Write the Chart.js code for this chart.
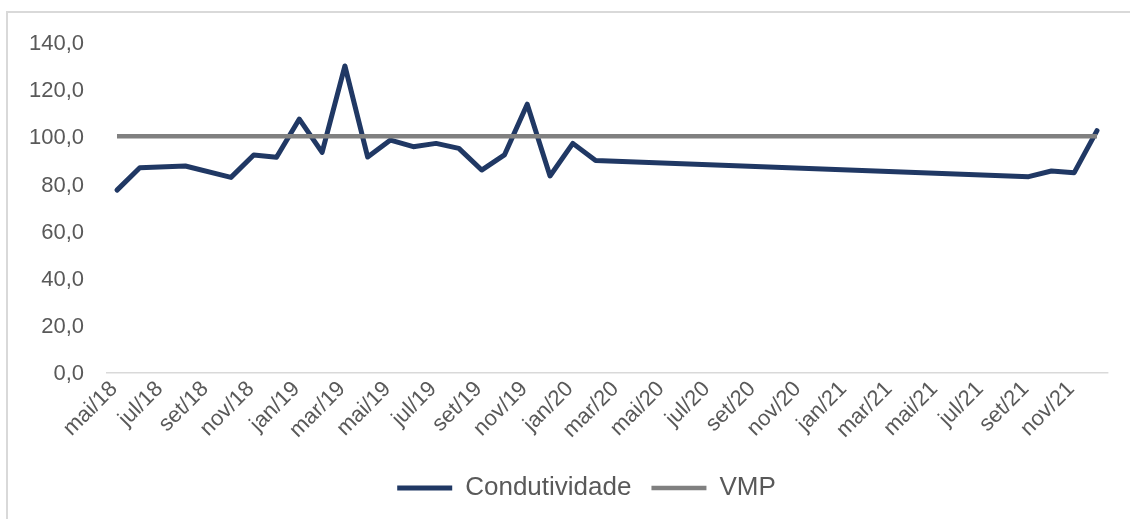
<!DOCTYPE html>
<html>
<head>
<meta charset="utf-8">
<script src="https://cdn.jsdelivr.net/npm/chart.js"></script>
<style>
  html, body { margin: 0; padding: 0; background: #fff; overflow: hidden; }
  #frame {
    position: absolute; left: 6px; top: 11px;
    border-left: 2px solid #d9d9d9; border-top: 2px solid #d9d9d9;
  }
  #box { position: relative; width: 1157px; height: 506px; }
</style>
</head>
<body>
<div id="frame"><div id="box"><canvas id="myChart"></canvas></div></div>
<script>
// months mai/18 .. dez/21
var meses = ["mai/18", "jun/18", "jul/18", "ago/18", "set/18", "out/18", "nov/18", "dez/18",
  "jan/19", "fev/19", "mar/19", "abr/19", "mai/19", "jun/19", "jul/19", "ago/19", "set/19", "out/19", "nov/19", "dez/19",
  "jan/20", "fev/20", "mar/20", "abr/20", "mai/20", "jun/20", "jul/20", "ago/20", "set/20", "out/20", "nov/20", "dez/20",
  "jan/21", "fev/21", "mar/21", "abr/21", "mai/21", "jun/21", "jul/21", "ago/21", "set/21", "out/21", "nov/21", "dez/21"];

// months without a sample are null, the line spans over them
var condutividade = [77.2, 86.7, null, 87.4, null, 82.6, 92.1, 91.1,
  107.3, 93.2, 129.8, 91.2, 98.4, 95.6, 97.0, 94.9, 85.7, 92.1, 113.6, 83.2,
  97.0, 89.7, null, null, null, null, null, null, null, null, null, null,
  null, null, null, null, null, null, null, null, 82.9, 85.3, 84.6, 102.4];

var vmp = [100, 100, 100, 100, 100, 100, 100, 100,
  100, 100, 100, 100, 100, 100, 100, 100, 100, 100, 100, 100,
  100, 100, 100, 100, 100, 100, 100, 100, 100, 100, 100, 100,
  100, 100, 100, 100, 100, 100, 100, 100, 100, 100, 100, 100];

var yTicks = [0, 20, 40, 60, 80, 100, 120, 140];

var fonte = "'Liberation Sans', Arial, sans-serif";
var cinzaTexto = "#595959";

var ctx = document.getElementById("myChart").getContext("2d");
var myChart = new Chart(ctx, {
  type: "line",
  data: {
    labels: meses,
    datasets: [
      {
        label: "Condutividade",
        data: condutividade,
        borderColor: "#203864",
        backgroundColor: "#203864",
        borderWidth: 5,
        borderCapStyle: "round",
        borderJoinStyle: "round",
        pointRadius: 0,
        spanGaps: true,
        order: 1
      },
      {
        label: "VMP",
        data: vmp,
        borderColor: "#808080",
        backgroundColor: "#808080",
        borderWidth: 4.5,
        borderCapStyle: "butt",
        pointRadius: 0,
        order: 0
      }
    ]
  },
  options: {
    responsive: true,
    maintainAspectRatio: false,
    animation: false,
    layout: { padding: { left: 0, right: 0, top: 28.9, bottom: 8 } },
    plugins: {
      tooltip: { enabled: false },
      legend: {
        position: "bottom",
        labels: {
          font: { family: fonte, size: 26 },
          color: cinzaTexto,
          usePointStyle: true,
          pointStyle: "line",
          pointStyleWidth: 55,
          padding: 20,
          sort: function (a, b) { return a.datasetIndex - b.datasetIndex; }
        }
      }
    },
    scales: {
      x: {
        offset: true,
        grid: { display: false, drawTicks: false },
        border: { display: false },
        ticks: {
          autoSkip: false,
          maxRotation: 45,
          minRotation: 45,
          padding: 4,
          labelOffset: -3,
          color: cinzaTexto,
          font: { family: fonte, size: 22 },
          callback: function (v, i) { return i % 2 === 0 ? meses[i] : ""; }
        },
        afterFit: function (scale) { scale.height = 82.7; }
      },
      y: {
        min: 0,
        max: 140,
        border: { display: false },
        grid: {
          drawTicks: true,
          tickLength: 21.6,
          tickColor: "rgba(0,0,0,0)",
          lineWidth: 1.5,
          color: function (c) { return c.tick && c.tick.value === 0 ? "#d9d9d9" : "rgba(0,0,0,0)"; }
        },
        afterBuildTicks: function (scale) {
          scale.ticks = yTicks.map(function (v) { return { value: v }; });
        },
        ticks: {
          padding: 0,
          labelOffset: 2,
          color: cinzaTexto,
          font: { family: fonte, size: 22 },
          callback: function (v) { return v.toFixed(1).replace(".", ","); }
        },
        afterFit: function (scale) { scale.width = 97.6; }
      },
      // empty margin on the right side of the plot
      margem: {
        type: "linear",
        position: "right",
        grid: { display: false },
        border: { display: false },
        ticks: { display: false },
        afterFit: function (scale) { scale.width = 56.6; }
      }
    }
  }
});
</script>
</body>
</html>
